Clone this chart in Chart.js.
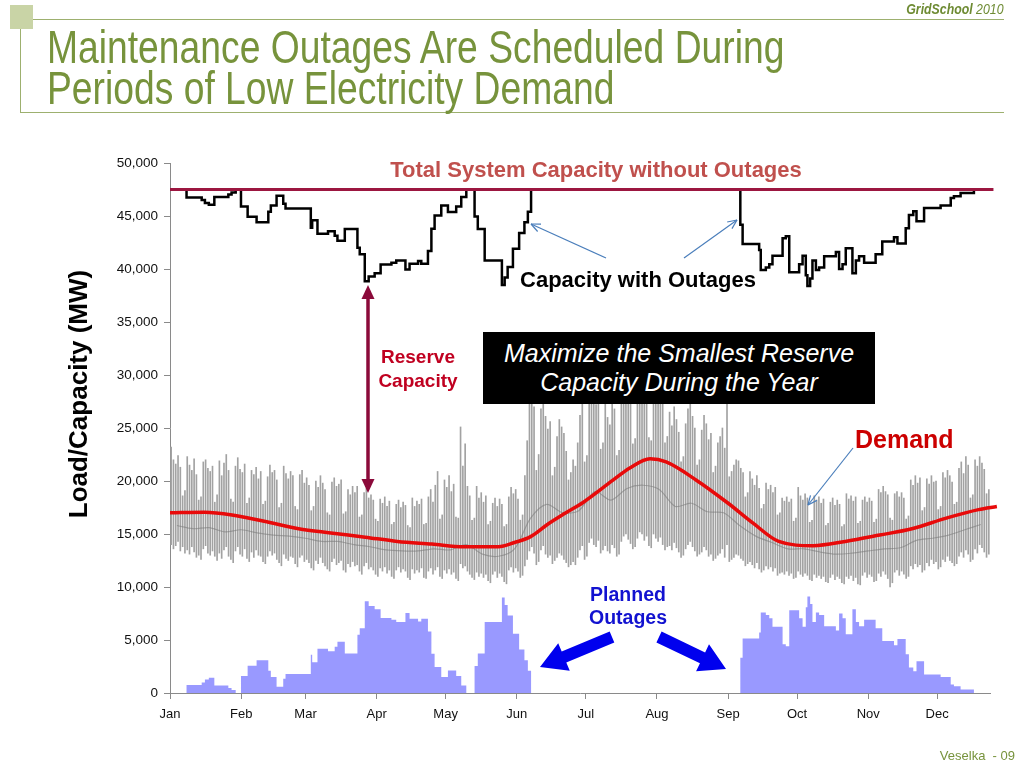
<!DOCTYPE html>
<html><head><meta charset="utf-8">
<script src="https://cdn.jsdelivr.net/npm/chart.js@4.4.1/dist/chart.umd.min.js"></script>
<style>
html,body{margin:0;padding:0;background:#fff;width:1024px;height:768px;overflow:hidden;position:relative;font-family:"Liberation Sans",Arial,sans-serif;}
#c{position:absolute;left:0;top:0;}
#ov{position:absolute;left:0;top:0;}
.t{position:absolute;white-space:nowrap;}
</style></head><body>
<canvas id="c" width="1024" height="768"></canvas>
<svg id="ov" width="1024" height="768" xmlns="http://www.w3.org/2000/svg"></svg>

<div style="position:absolute;left:10px;top:5px;width:23px;height:24px;background:#C9D4A6;"></div>
<div style="position:absolute;left:33px;top:19px;width:971px;height:1px;background:#9DB06F;"></div>
<div style="position:absolute;left:20px;top:29px;width:1px;height:84px;background:#9DB06F;"></div>
<div style="position:absolute;left:20px;top:112px;width:984px;height:1px;background:#9DB06F;"></div>
<div class="t" style="right:21px;top:1px;font-size:14px;color:#6E8B33;font-style:italic;transform:scaleX(0.88);transform-origin:right top;"><b>GridSchool</b> 2010</div>
<div class="t" style="left:47px;top:27px;font-size:46px;line-height:41px;color:#77933C;transform:scaleX(0.81);transform-origin:left top;">Maintenance Outages Are Scheduled During<br>Periods of Low Electricity Demand</div>
<div class="t" style="right:9px;top:748px;font-size:13px;color:#77933C;">Veselka&nbsp; - 09</div>

<div class="t" style="left:-72px;top:379px;width:300px;text-align:center;font-size:26px;line-height:30px;font-weight:bold;color:#000;transform:rotate(-90deg);">Load/Capacity (MW)</div>

<div class="t" style="left:346px;top:157px;width:500px;text-align:center;font-size:22px;line-height:26px;font-weight:bold;color:#C0504D;">Total System Capacity without Outages</div>
<div class="t" style="left:438px;top:267px;width:400px;text-align:center;font-size:22px;line-height:26px;font-weight:bold;color:#000;">Capacity with Outages</div>
<div class="t" style="left:358px;top:345px;width:120px;text-align:center;font-size:19px;line-height:24px;font-weight:bold;color:#C00020;">Reserve<br>Capacity</div>
<div style="position:absolute;left:483px;top:332px;width:392px;height:72px;background:#000;color:#fff;font-style:italic;font-size:25px;line-height:29px;text-align:center;display:flex;flex-direction:column;justify-content:center;">
<div>Maximize the Smallest Reserve</div><div>Capacity During the Year</div></div>
<div class="t" style="left:855px;top:424px;font-size:25px;line-height:30px;font-weight:bold;color:#CC0000;">Demand</div>
<div class="t" style="left:558px;top:583px;width:140px;text-align:center;font-size:19.5px;line-height:23px;font-weight:bold;color:#1212D0;">Planned<br>Outages</div>

<script>
// ---------- DATA (values in thousand MW; x = day of year) ----------
const monthStartDays = [0, 31, 59, 90, 120, 151, 181, 212, 243, 273, 304, 334];
const monthLabels = ['Jan','Feb','Mar','Apr','May','Jun','Jul','Aug','Sep','Oct','Nov','Dec'];
const yTickStep = 5; // 5,000 MW

const totalCapacity = 47.5;

// planned outages: step starts (day) and MW on outage
const outageDays = [0,7.2,13.8,15.2,16.9,19.3,25.4,26.8,28.6,30.9,33.8,37.7,42.8,43.9,46.4,49.3,50.3,61.3,61.9,64.2,68.8,71.7,72.9,76.1,81.6,82.6,84.8,86.5,89.1,91.7,96.4,98.5,102.5,104.3,108,109.4,112.3,113.8,115.2,118.1,121,124.6,126.8,129,132.6,134,137,144.5,145.7,147,149.3,152,154.3,155.8,157.2,
  248.3,249.3,256.5,257.2,259.4,260.9,262.3,266.7,268.1,269.6,273.9,275.4,276.8,277.5,278.7,279.7,281.2,282.6,284.8,289.9,291.3,292.8,294.2,297.1,298.6,300,302.2,307.2,310.1,315.2,316.7,320.3,321.7,323.6,325,328.3,335.5,339.9,341.3,344.2,350,357];
const outageMW = [0,0.76,1.0,1.27,1.43,0.7,0.48,0.29,0,1.6,2.58,3.1,2.1,1.5,0.6,1.34,1.8,3.6,2.9,4.17,3.95,4.36,4.84,3.73,5.5,6.1,8.66,8.2,7.9,7.07,6.9,6.7,7.55,7.0,6.75,7.0,5.8,3.7,2.45,1.5,2.13,1.6,0.7,0,2.55,3.73,6.7,9.0,8.3,7.3,5.6,4.1,3.1,2.1,0,
  3.33,5.14,5.7,7.6,7.37,7.05,6.25,4.6,4.4,7.8,7.05,6.25,8.1,9.1,8.4,6.7,7.6,7.37,6.3,5.9,7.5,7.05,5.55,7.9,6.7,6.3,6.9,6.1,4.9,4.5,5.1,3.65,2.4,2.06,3.0,1.75,1.52,0.8,0.63,0.32,0,0];

// smoothed demand trend
const trendDays = [0,15,27,41,56,70,85,99,114,128,143,150,157,164,172,180,193,200,209,216,229,243,254,265,280,294,309,323,338,352,360];
const trendMW = [17.0,17.05,16.8,16.2,15.5,15.1,14.7,14.3,14.05,13.8,13.8,14.2,14.75,15.85,16.95,18.0,20.1,21.2,22.1,21.8,20.1,17.9,16.0,14.3,13.9,14.3,14.9,15.5,16.5,17.3,17.6];

// daily demand peaks (one value per day, day 0..356)
const dailyHigh = [
23.2,22.0,21.6,22.4,21.3,18.6,19.1, 22.3,21.5,21.0,22.1,20.6,18.2,18.5, 21.8,22.0,21.2,20.9,21.4,18.0,18.7, 21.9,20.5,21.7,22.5,21.0,18.3,18.0,
21.4,22.2,21.1,20.8,21.6,17.9,18.4, 21.0,20.6,21.3,20.2,20.9,17.8,18.1, 20.4,21.5,20.8,21.0,20.1,17.5,17.9, 21.4,20.7,20.2,20.9,20.5,17.6,17.3,
20.6,21.0,19.8,20.3,19.6,17.2,17.6, 20.0,19.4,20.5,19.8,19.2,17.0,16.8, 19.9,20.3,19.5,19.7,20.1,16.9,17.1, 19.2,18.7,19.5,18.9,19.5,16.6,16.8,
18.9,19.3,18.4,18.7,18.2,16.4,16.2, 18.3,17.9,18.5,17.6,18.1,15.9,16.1, 17.8,18.2,17.5,18.0,17.7,15.8,15.6, 18.4,17.6,18.1,17.8,18.3,15.9,16.0,
18.5,19.2,18.0,19.6,20.9,16.4,16.8, 20.1,19.4,20.5,19.0,19.7,16.6,16.5, 25.1,21.4,23.5,19.5,18.6,16.3,16.5, 19.5,18.4,18.9,18.0,18.6,15.9,16.2,
17.9,18.4,17.6,18.3,17.8,15.7,15.9, 18.5,19.4,18.8,19.2,18.3,16.3,16.8, 20.5,23.8,27.5,28.4,27.0,21.0,22.5, 26.8,28.0,26.1,24.9,25.6,20.5,21.3,
24.2,25.8,25.1,24.5,22.8,20.1,20.8, 22.0,21.4,23.6,26.2,27.5,21.8,22.4, 28.5,29.6,28.0,27.2,29.1,23.0,23.6, 27.4,26.0,25.3,27.6,26.8,22.4,22.9,
28.2,29.4,30.1,28.8,27.5,23.5,24.0, 29.0,30.5,29.8,28.4,29.2,24.1,23.8, 30.2,29.1,28.6,29.5,27.9,23.6,24.2, 26.5,25.2,27.0,25.8,24.6,21.8,22.3,
25.4,26.8,27.6,26.1,25.0,21.5,22.0, 24.8,26.2,25.4,23.9,24.5,20.8,21.4, 23.6,24.2,25.0,23.1,27.6,20.4,20.9, 21.5,22.0,21.9,21.2,20.8,18.5,18.9,
20.9,20.2,19.6,20.5,19.3,17.4,17.8, 19.8,19.2,19.6,18.9,19.4,16.8,17.0, 18.4,18.1,18.5,18.0,18.3,16.2,16.5, 19.4,18.6,18.2,18.8,18.4,16.1,16.3,
18.6,18.2,18.5,17.9,18.3,15.8,16.0, 18.0,18.4,17.7,18.2,17.8,15.7,15.9, 18.8,18.3,18.6,18.1,18.5,16.0,16.2, 18.2,18.5,18.0,18.4,18.1,16.1,16.4,
19.2,18.9,19.5,19.0,18.7,16.5,16.3, 18.8,19.0,18.5,18.9,18.4,16.4,16.7, 20.1,19.6,20.5,19.8,20.3,17.2,17.5, 20.2,19.7,20.5,19.9,20.0,17.3,17.6,
20.8,20.3,21.0,20.5,19.9,17.8,18.0, 21.2,21.8,20.7,22.3,21.5,18.4,18.7, 22.0,21.4,22.3,21.7,21.1,18.8,19.2];

// daily demand minima (one value per day, day 0..356)
const dailyLow = [
14.0,13.6,13.9,14.3,13.4,13.8,13.2, 13.5,13.1,13.8,13.3,12.8,13.0,12.6, 13.6,13.9,13.2,13.0,13.4,12.9,12.5, 13.2,12.7,13.5,13.8,12.9,12.6,12.3,
13.4,13.8,13.1,12.9,13.6,12.7,12.4, 13.3,12.8,13.5,13.0,12.9,12.4,12.2, 12.9,13.4,13.0,13.2,12.6,12.3,12.0, 13.1,12.7,12.5,12.9,12.8,12.2,11.9,
12.8,13.0,12.4,12.6,12.3,11.8,11.6, 12.5,12.2,12.8,12.3,12.0,11.7,11.5, 12.4,12.7,12.1,12.3,12.5,11.6,11.4, 12.2,11.9,12.4,12.0,12.1,11.5,11.2,
12.0,12.3,11.7,11.9,11.6,11.2,11.0, 11.8,11.5,11.9,11.3,11.6,11.0,10.8, 11.6,11.9,11.4,11.7,11.5,10.9,10.7, 11.7,11.3,11.6,11.4,11.8,10.9,10.8,
11.5,11.8,11.2,11.6,11.9,11.0,10.8, 11.6,11.3,11.7,11.2,11.4,10.8,10.6, 12.2,11.8,12.0,11.5,11.2,10.9,10.7, 11.4,11.0,11.3,10.9,11.2,10.6,10.4,
11.2,11.5,10.9,11.3,11.0,10.5,10.3, 11.6,11.9,11.4,11.8,11.5,10.9,11.1, 12.0,12.6,13.4,13.8,13.2,12.1,12.4, 13.5,13.9,13.1,12.8,13.0,12.2,12.5,
12.8,13.2,13.0,12.6,12.3,11.9,12.1, 12.4,12.1,12.8,13.5,13.9,12.6,12.9, 14.2,14.6,14.0,13.8,14.4,13.2,13.5, 13.9,13.4,13.2,14.0,13.7,12.9,13.1,
14.3,14.8,15.0,14.5,14.1,13.6,13.8, 14.6,15.2,15.0,14.4,14.8,13.9,13.7, 15.0,14.6,14.3,14.7,14.0,13.5,13.8, 13.9,13.5,14.2,13.7,13.3,12.8,13.0,
13.6,14.0,14.3,13.8,13.4,12.9,13.1, 13.3,13.8,13.5,12.9,13.1,12.5,12.7, 13.0,13.2,13.6,12.8,14.0,12.4,12.6, 12.8,13.1,13.0,12.7,12.5,12.0,12.2,
12.4,12.1,11.8,12.3,11.7,11.4,11.6, 12.0,11.7,11.9,11.5,11.8,11.1,11.3, 11.4,11.2,11.5,11.1,11.3,10.8,10.9, 11.5,11.2,11.0,11.3,11.1,10.7,10.6,
11.2,10.9,11.1,10.8,11.0,10.5,10.4, 10.9,11.2,10.7,11.0,10.8,10.4,10.3, 11.0,10.8,11.1,10.6,10.9,10.3,10.2, 11.1,11.4,10.9,11.2,11.0,10.5,10.6,
11.3,11.0,11.5,11.2,10.8,10.0,10.4, 11.4,11.6,11.1,11.5,11.2,10.8,11.0, 12.0,11.7,12.2,11.9,12.1,11.4,11.6, 12.3,12.0,12.6,12.2,12.4,11.7,11.9,
12.6,12.4,12.9,12.5,12.3,12.0,12.2, 12.9,13.3,12.8,13.5,13.1,12.4,12.6, 13.6,13.2,14.0,13.7,13.3,12.8,13.1];

// weekly typical (dense band) demand level, one per week (mid-week day = week*7+3)
const weeklyTypical = [15.8,15.5,15.6,15.2,15.4,15.1,14.9,14.8,14.6,14.3,14.3,14.0,13.8,13.5,13.4,13.4,13.6,13.5,14.0,13.1,12.9,13.6,16.5,17.8,17.0,17.2,
  19.0,18.2,19.3,19.6,19.2,17.6,17.9,17.1,17.0,15.8,14.8,14.2,13.6,13.6,13.3,13.1,13.2,13.4,13.6,13.7,14.4,14.6,14.9,15.4,15.9];

// ---------- CHART ----------
Chart.defaults.font.family = '"Liberation Sans", Arial, sans-serif';
Chart.defaults.color = '#111';

const capacityPts = outageDays.map((d, i) => ({ x: d, y: totalCapacity - outageMW[i] }));
const outagePts = outageDays.map((d, i) => ({ x: d, y: outageMW[i] }));
const demandBars = dailyHigh.map((h, d) => ({ x: d + 0.5, y: [dailyLow[d], h] }));
const typicalPts = weeklyTypical.map((v, w) => ({ x: w * 7 + 3, y: v }));
const trendPts = trendDays.map((d, i) => ({ x: d, y: trendMW[i] }));

new Chart(document.getElementById('c'), {
  type: 'line',
  data: {
    datasets: [
      { label: 'Total System Capacity', data: [{x: 0, y: totalCapacity}, {x: 358.5, y: totalCapacity}],
        borderColor: '#9C1640', borderWidth: 3, pointRadius: 0, order: 1, clip: false },
      { label: 'Capacity with Outages', data: capacityPts, stepped: true,
        borderColor: '#000', borderWidth: 2.5, pointRadius: 0, order: 2 },
      { label: 'Demand trend', data: trendPts, cubicInterpolationMode: 'monotone',
        borderColor: '#E80A0A', borderWidth: 3.5, pointRadius: 0, order: 3, clip: false },
      { label: 'Typical demand', data: typicalPts, tension: 0.3,
        borderColor: 'rgba(120,120,120,0.55)', borderWidth: 1.2, pointRadius: 0, order: 4 },
      { type: 'bar', label: 'Demand', data: demandBars,
        backgroundColor: '#a2a2a2', barThickness: 1, order: 5 },
      { label: 'Planned Outages', data: outagePts, stepped: true, fill: 'origin',
        backgroundColor: '#9999FF', borderColor: 'rgba(0,0,0,0)', borderWidth: 0, pointRadius: 0, order: 6 }
    ]
  },
  options: {
    responsive: false, animation: false, devicePixelRatio: 1,
    layout: { padding: { top: 163, right: 34, left: 0, bottom: 0 } },
    plugins: { legend: { display: false }, tooltip: { enabled: false } },
    scales: {
      x: {
        type: 'linear', min: 0, max: 357, offset: false,
        afterBuildTicks: (s) => { s.ticks = monthStartDays.map(v => ({ value: v })); },
        afterFit: (s) => { s.height = 75; },
        ticks: { autoSkip: false, maxRotation: 0, padding: 8, color: '#111', font: { size: 13 },
          callback: (v) => monthLabels[monthStartDays.indexOf(v)] },
        grid: { offset: false, drawOnChartArea: false, tickLength: 6, color: '#8a8a8a' },
        border: { color: '#8a8a8a', width: 1 }
      },
      y: {
        min: 0, max: 50,
        afterFit: (s) => { s.width = 170; },
        ticks: { stepSize: yTickStep, padding: 6, color: '#111', font: { size: 13.5 },
          callback: (v) => (v * 1000).toLocaleString('en-US') },
        grid: { offset: false, drawOnChartArea: false, tickLength: 6, color: '#8a8a8a' },
        border: { color: '#8a8a8a', width: 1 }
      }
    }
  }
});

// ---------- ANNOTATION ARROWS ----------
const svg = document.getElementById('ov');
const NS = 'http://www.w3.org/2000/svg';
function add(tag, attrs) { const e = document.createElementNS(NS, tag); for (const k in attrs) e.setAttribute(k, attrs[k]); svg.appendChild(e); return e; }
function blockArrow(tx, ty, hx, hy, sw, hl, hw, color) {
  const L = Math.hypot(hx - tx, hy - ty), ux = (hx - tx) / L, uy = (hy - ty) / L, nx = -uy, ny = ux;
  const bx = hx - ux * hl, by = hy - uy * hl;
  const p = [[tx + nx * sw, ty + ny * sw], [bx + nx * sw, by + ny * sw], [bx + nx * hw, by + ny * hw], [hx, hy],
             [bx - nx * hw, by - ny * hw], [bx - nx * sw, by - ny * sw], [tx - nx * sw, ty - ny * sw]];
  add('polygon', { points: p.map(q => q.join(',')).join(' '), fill: color });
}
function thinArrow(tx, ty, hx, hy, color) {
  add('line', { x1: tx, y1: ty, x2: hx, y2: hy, stroke: color, 'stroke-width': 1.2 });
  const a = Math.atan2(ty - hy, tx - hx), len = 10, sp = 0.42;
  [a - sp, a + sp].forEach(b => add('line', { x1: hx, y1: hy, x2: hx + Math.cos(b) * len, y2: hy + Math.sin(b) * len, stroke: color, 'stroke-width': 1.2 }));
}
// reserve double arrow
add('line', { x1: 368, y1: 296, x2: 368, y2: 482, stroke: '#8B0A3A', 'stroke-width': 3.5 });
add('polygon', { points: '368,285 361.5,299 374.5,299', fill: '#8B0A3A' });
add('polygon', { points: '368,493 361.5,479 374.5,479', fill: '#8B0A3A' });
// big blue arrows
blockArrow(612, 637, 540, 667, 6, 26, 15, '#0000EE');
blockArrow(659, 637, 726, 669, 6, 26, 15, '#0000EE');
// thin callouts
thinArrow(606, 258, 531, 224, '#4A7EBB');
thinArrow(684, 258, 737, 220, '#4A7EBB');
thinArrow(853, 448, 808, 505, '#4A7EBB');
</script>
</body></html>
